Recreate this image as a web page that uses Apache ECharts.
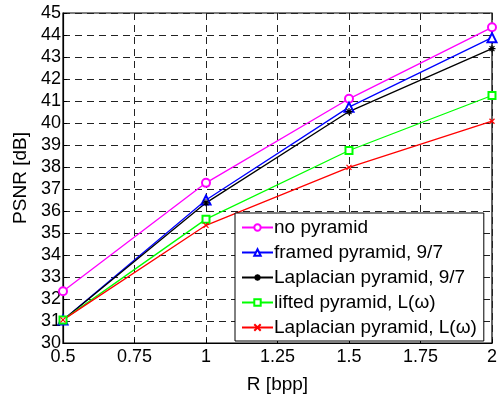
<!DOCTYPE html>
<html>
<head>
<meta charset="utf-8">
<script src="https://cdn.jsdelivr.net/npm/echarts@6/dist/echarts.min.js"></script>
<style>
  html, body { margin: 0; padding: 0; background: #fff; }
  #chart { width: 500px; height: 399px; }
</style>
</head>
<body>
<div id="chart"></div>
<script>
// 横轴码率 R [bpp]
var rates = [0.5, 1, 1.5, 2];
var noPyramid = [32.35, 37.28, 41.1, 44.35];
var framed97 = [31.05, 36.5, 40.72, 43.88];
var laplace97 = [31.05, 36.37, 40.52, 43.38];
var liftedL = [31.05, 35.63, 38.75, 41.25];
var laplaceL = [31.05, 35.35, 37.98, 40.08];
var seriesNames = ['no pyramid', 'framed pyramid, 9/7', 'Laplacian pyramid, 9/7',
  'lifted pyramid, L(\u03c9)', 'Laplacian pyramid, L(\u03c9)'];

var myChart = echarts.init(document.getElementById('chart'));

function pairs(vals) {
  return rates.map(function (r, i) { return [r, vals[i]]; });
}

var starPath = 'path://M5,0 L5,10 M0,5 L10,5 M1.5,1.5 L8.5,8.5 M8.5,1.5 L1.5,8.5';
var crossPath = 'path://M0,0 L10,10 M10,0 L0,10';

function mk(name, vals, color, symbol, size) {
  return {
    name: name,
    type: 'line',
    data: pairs(vals),
    symbol: symbol,
    symbolSize: size,
    color: color,
    lineStyle: { color: color, width: 1.3 },
    itemStyle: { color: color, borderColor: color, borderWidth: 1.2 }
  };
}

var font = 'Liberation Sans';

var option = {
  animation: false,
  grid: {
    left: 63, right: 5, top: 13, bottom: 47,
    show: true, borderColor: '#000', borderWidth: 1.2
  },
  xAxis: {
    type: 'value',
    min: 0.5, max: 2, interval: 0.25,
    name: 'R [bpp]',
    nameLocation: 'middle',
    nameGap: 32,
    nameTextStyle: { fontFamily: font, fontSize: 19, color: '#000' },
    axisLine: { lineStyle: { color: '#000', width: 1.2 } },
    axisTick: { inside: true, length: 4, lineStyle: { color: '#000' } },
    axisLabel: { fontFamily: font, fontSize: 18, color: '#000', margin: 5 },
    splitLine: { show: true, lineStyle: { color: '#222', type: [7, 5], width: 1 } }
  },
  yAxis: {
    type: 'value',
    min: 30, max: 45, interval: 1,
    name: 'PSNR [dB]',
    nameLocation: 'middle',
    nameGap: 27,
    nameTextStyle: { fontFamily: font, fontSize: 19, color: '#000' },
    axisLine: { show: true, lineStyle: { color: '#000', width: 1.2 } },
    axisTick: { show: true, inside: true, length: 4, lineStyle: { color: '#000' } },
    axisLabel: { fontFamily: font, fontSize: 18, color: '#000', margin: 2 },
    splitLine: { show: true, lineStyle: { color: '#222', type: [7, 5], width: 1 } }
  },
  legend: {
    left: 235, top: 213,
    orient: 'vertical',
    backgroundColor: '#fff',
    borderColor: '#000',
    borderWidth: 1,
    borderRadius: 0,
    padding: [5, 7, 4, 6],
    itemWidth: 31,
    itemHeight: 8,
    itemGap: 6,
    textStyle: { fontFamily: font, fontSize: 19, lineHeight: 18, color: '#000', padding: [0, 0, 0, -4] },
    data: seriesNames
  },
  series: [
    mk(seriesNames[0], noPyramid, '#ff00ff', 'emptyCircle', 8),
    mk(seriesNames[1], framed97, '#0000ff', 'emptyTriangle', 9),
    mk(seriesNames[2], laplace97, '#000000', starPath, 7),
    mk(seriesNames[3], liftedL, '#00ff00', 'emptyRect', 7),
    mk(seriesNames[4], laplaceL, '#ff0000', crossPath, 5)
  ]
};

myChart.setOption(option);
</script>
</body>
</html>
